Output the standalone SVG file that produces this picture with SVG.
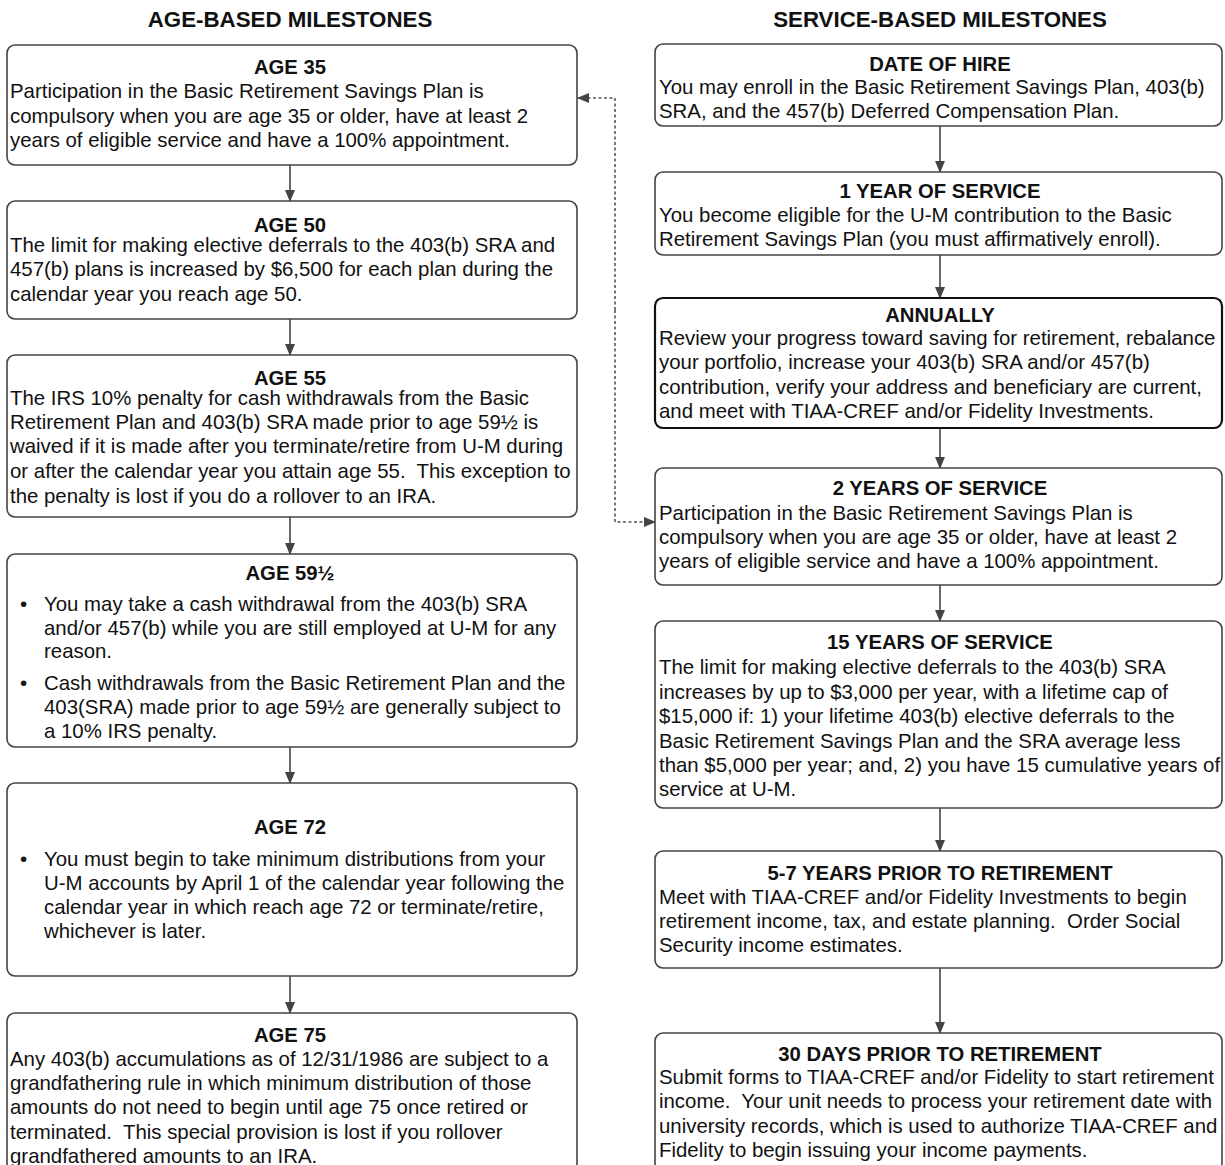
<svg xmlns="http://www.w3.org/2000/svg" width="1225" height="1165" viewBox="0 0 1225 1165" xml:space="preserve">
<style>
.box{fill:#fff;stroke:#444;stroke-width:1.6}
.boxb{fill:#fff;stroke:#111;stroke-width:2.2}
.t{font-family:"Liberation Sans",Arial,sans-serif;font-size:20.4px;fill:#111;white-space:pre}
.h{font-family:"Liberation Sans",Arial,sans-serif;font-size:20.3px;font-weight:bold;fill:#111;text-anchor:middle}
.hh{font-family:"Liberation Sans",Arial,sans-serif;font-size:22.3px;font-weight:bold;fill:#111;text-anchor:middle}
.c{stroke:#444;stroke-width:1.6;fill:none}
.d{stroke:#555;stroke-width:1.6;fill:none;stroke-dasharray:3 2.5}
</style>
<defs>
<marker id="ah" viewBox="0 0 12 12" refX="11" refY="6" markerWidth="12" markerHeight="12" markerUnits="userSpaceOnUse" orient="auto">
<path d="M0,1 L12,6 L0,11 Z" fill="#444"/>
</marker>
</defs>
<rect width="1225" height="1165" fill="#fff"/>
<text class="hh" x="290" y="27">AGE-BASED MILESTONES</text>
<text class="hh" x="940" y="27">SERVICE-BASED MILESTONES</text>

<g id="connectors">
<line class="c" x1="290" y1="165" x2="290" y2="201" marker-end="url(#ah)"/>
<line class="c" x1="290" y1="319" x2="290" y2="355" marker-end="url(#ah)"/>
<line class="c" x1="290" y1="517" x2="290" y2="554" marker-end="url(#ah)"/>
<line class="c" x1="290" y1="747" x2="290" y2="783" marker-end="url(#ah)"/>
<line class="c" x1="290" y1="976" x2="290" y2="1013" marker-end="url(#ah)"/>
<line class="c" x1="940" y1="126" x2="940" y2="172" marker-end="url(#ah)"/>
<line class="c" x1="940" y1="255" x2="940" y2="298" marker-end="url(#ah)"/>
<line class="c" x1="940" y1="428" x2="940" y2="468" marker-end="url(#ah)"/>
<line class="c" x1="940" y1="585" x2="940" y2="621" marker-end="url(#ah)"/>
<line class="c" x1="940" y1="808" x2="940" y2="851" marker-end="url(#ah)"/>
<line class="c" x1="940" y1="968" x2="940" y2="1033" marker-end="url(#ah)"/>
<path class="d" d="M615,310 L615,98 L578,98" marker-end="url(#ah)"/>
<path class="d" d="M615,310 L615,522 L655,522" marker-end="url(#ah)"/>
</g>

<g id="age35">
<rect class="box" x="7" y="45" width="570" height="120" rx="8"/>
<text class="h" x="290" y="74">AGE 35</text>
<text class="t" x="10" y="98">Participation in the Basic Retirement Savings Plan is</text>
<text class="t" x="10" y="123">compulsory when you are age 35 or older, have at least 2</text>
<text class="t" x="10" y="147">years of eligible service and have a 100% appointment.</text>
</g>

<g id="age50">
<rect class="box" x="7" y="201" width="570" height="118" rx="8"/>
<text class="h" x="290" y="232">AGE 50</text>
<text class="t" x="10" y="252">The limit for making elective deferrals to the 403(b) SRA and</text>
<text class="t" x="10" y="276">457(b) plans is increased by $6,500 for each plan during the</text>
<text class="t" x="10" y="301">calendar year you reach age 50.</text>
</g>

<g id="age55">
<rect class="box" x="7" y="355" width="570" height="162" rx="8"/>
<text class="h" x="290" y="385">AGE 55</text>
<text class="t" x="10" y="405">The IRS 10% penalty for cash withdrawals from the Basic</text>
<text class="t" x="10" y="429">Retirement Plan and 403(b) SRA made prior to age 59½ is</text>
<text class="t" x="10" y="453">waived if it is made after you terminate/retire from U-M during</text>
<text class="t" x="10" y="478">or after the calendar year you attain age 55.  This exception to</text>
<text class="t" x="10" y="503">the penalty is lost if you do a rollover to an IRA.</text>
</g>

<g id="age59">
<rect class="box" x="7" y="554" width="570" height="193" rx="8"/>
<text class="h" x="290" y="580">AGE 59½</text>
<text class="t" x="20" y="611">•</text>
<text class="t" x="44" y="611">You may take a cash withdrawal from the 403(b) SRA</text>
<text class="t" x="44" y="635">and/or 457(b) while you are still employed at U-M for any</text>
<text class="t" x="44" y="658">reason.</text>
<text class="t" x="20" y="690">•</text>
<text class="t" x="44" y="690">Cash withdrawals from the Basic Retirement Plan and the</text>
<text class="t" x="44" y="714">403(SRA) made prior to age 59½ are generally subject to</text>
<text class="t" x="44" y="738">a 10% IRS penalty.</text>
</g>

<g id="age72">
<rect class="box" x="7" y="783" width="570" height="193" rx="8"/>
<text class="h" x="290" y="834">AGE 72</text>
<text class="t" x="20" y="866">•</text>
<text class="t" x="44" y="866">You must begin to take minimum distributions from your</text>
<text class="t" x="44" y="890">U-M accounts by April 1 of the calendar year following the</text>
<text class="t" x="44" y="914">calendar year in which reach age 72 or terminate/retire,</text>
<text class="t" x="44" y="938">whichever is later.</text>
</g>

<g id="age75">
<rect class="box" x="7" y="1013" width="570" height="180" rx="8"/>
<text class="h" x="290" y="1042">AGE 75</text>
<text class="t" x="10" y="1066">Any 403(b) accumulations as of 12/31/1986 are subject to a</text>
<text class="t" x="10" y="1090">grandfathering rule in which minimum distribution of those</text>
<text class="t" x="10" y="1114">amounts do not need to begin until age 75 once retired or</text>
<text class="t" x="10" y="1139">terminated.  This special provision is lost if you rollover</text>
<text class="t" x="10" y="1163">grandfathered amounts to an IRA.</text>
</g>

<g id="hire">
<rect class="box" x="655" y="44" width="567" height="82" rx="8"/>
<text class="h" x="940" y="71">DATE OF HIRE</text>
<text class="t" x="659" y="94">You may enroll in the Basic Retirement Savings Plan, 403(b)</text>
<text class="t" x="659" y="118">SRA, and the 457(b) Deferred Compensation Plan.</text>
</g>

<g id="year1">
<rect class="box" x="655" y="172" width="567" height="83" rx="8"/>
<text class="h" x="940" y="198">1 YEAR OF SERVICE</text>
<text class="t" x="659" y="222">You become eligible for the U-M contribution to the Basic</text>
<text class="t" x="659" y="246">Retirement Savings Plan (you must affirmatively enroll).</text>
</g>

<g id="annually">
<rect class="boxb" x="655" y="298" width="567" height="130" rx="8"/>
<text class="h" x="940" y="322">ANNUALLY</text>
<text class="t" x="659" y="345">Review your progress toward saving for retirement, rebalance</text>
<text class="t" x="659" y="369">your portfolio, increase your 403(b) SRA and/or 457(b)</text>
<text class="t" x="659" y="394">contribution, verify your address and beneficiary are current,</text>
<text class="t" x="659" y="418">and meet with TIAA-CREF and/or Fidelity Investments.</text>
</g>

<g id="year2">
<rect class="box" x="655" y="468" width="567" height="117" rx="8"/>
<text class="h" x="940" y="495">2 YEARS OF SERVICE</text>
<text class="t" x="659" y="520">Participation in the Basic Retirement Savings Plan is</text>
<text class="t" x="659" y="544">compulsory when you are age 35 or older, have at least 2</text>
<text class="t" x="659" y="568">years of eligible service and have a 100% appointment.</text>
</g>

<g id="year15">
<rect class="box" x="655" y="621" width="567" height="187" rx="8"/>
<text class="h" x="940" y="649">15 YEARS OF SERVICE</text>
<text class="t" x="659" y="674">The limit for making elective deferrals to the 403(b) SRA</text>
<text class="t" x="659" y="699">increases by up to $3,000 per year, with a lifetime cap of</text>
<text class="t" x="659" y="723">$15,000 if: 1) your lifetime 403(b) elective deferrals to the</text>
<text class="t" x="659" y="748">Basic Retirement Savings Plan and the SRA average less</text>
<text class="t" x="659" y="772">than $5,000 per year; and, 2) you have 15 cumulative years of</text>
<text class="t" x="659" y="796">service at U-M.</text>
</g>

<g id="prior57">
<rect class="box" x="655" y="851" width="567" height="117" rx="8"/>
<text class="h" x="940" y="880">5-7 YEARS PRIOR TO RETIREMENT</text>
<text class="t" x="659" y="904">Meet with TIAA-CREF and/or Fidelity Investments to begin</text>
<text class="t" x="659" y="928">retirement income, tax, and estate planning.  Order Social</text>
<text class="t" x="659" y="952">Security income estimates.</text>
</g>

<g id="days30">
<rect class="box" x="655" y="1033" width="567" height="167" rx="8"/>
<text class="h" x="940" y="1061">30 DAYS PRIOR TO RETIREMENT</text>
<text class="t" x="659" y="1084">Submit forms to TIAA-CREF and/or Fidelity to start retirement</text>
<text class="t" x="659" y="1108">income.  Your unit needs to process your retirement date with</text>
<text class="t" x="659" y="1133">university records, which is used to authorize TIAA-CREF and</text>
<text class="t" x="659" y="1157">Fidelity to begin issuing your income payments.</text>
</g>
</svg>
